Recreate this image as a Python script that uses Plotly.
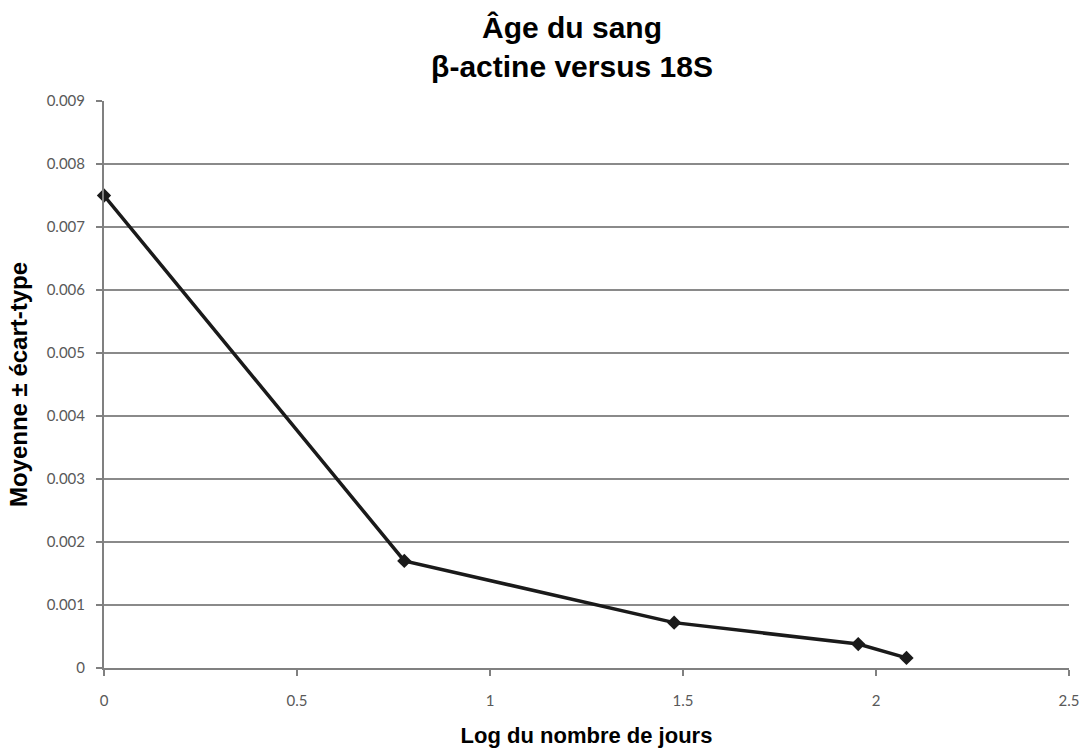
import plotly.graph_objects as go

log_days = [0.0, 0.778, 1.477, 1.954, 2.079]
mean_ratio = [0.0075, 0.0017, 0.00072, 0.00038, 0.00016]

x_ticks = [0, 0.5, 1, 1.5, 2, 2.5]
x_tick_text = ["0", "0.5", "1", "1.5", "2", "2.5"]
y_ticks = [0, 0.001, 0.002, 0.003, 0.004, 0.005, 0.006, 0.007, 0.008, 0.009]
y_tick_text = ["0", "0.001", "0.002", "0.003", "0.004", "0.005", "0.006", "0.007", "0.008", "0.009"]

fig = go.Figure()
fig.add_trace(go.Scatter(
    x=log_days, y=mean_ratio, mode="lines+markers",
    line=dict(color="#1a1a1a", width=3.5),
    marker=dict(symbol="diamond", size=11, color="#1a1a1a"),
    cliponaxis=False, showlegend=False,
))

tick_font = dict(family="Lato, Open Sans, sans-serif", size=15, color="#595959")

fig.update_layout(
    width=1091, height=756,
    margin=dict(l=104, r=20, t=101, b=80),
    paper_bgcolor="white", plot_bgcolor="white",
    title=dict(
        text="<b>Âge du sang<br>β-actine versus 18S</b>",
        font=dict(family="Liberation Sans, Arial, sans-serif", size=30, color="black"),
        x=572 / 1091, xanchor="center", xref="container",
        y=1 - 38 / 756, yanchor="middle", yref="container",
    ),
)
fig.update_xaxes(
    range=[0, 2.5], tickvals=x_ticks, ticktext=x_tick_text,
    showgrid=False, zeroline=False,
    showline=True, linecolor="#808080", linewidth=2,
    ticks="outside", ticklen=6, tickcolor="#808080", tickwidth=2,
    tickfont=tick_font, ticklabelstandoff=12,
    title=dict(text="<b>Log du nombre de jours</b>",
               font=dict(family="Liberation Sans, Arial, sans-serif", size=22, color="black"),
               standoff=20),
)
fig.update_yaxes(
    range=[0, 0.009], tickvals=y_ticks, ticktext=y_tick_text,
    showgrid=True, gridcolor="#8a8a8a", gridwidth=1.6,
    zeroline=False,
    showline=True, linecolor="#808080", linewidth=2,
    ticks="outside", ticklen=6, tickcolor="#808080", tickwidth=2,
    tickfont=tick_font, ticklabelstandoff=8,
    title=dict(text="<b>Moyenne ± écart-type</b>",
               font=dict(family="Liberation Sans, Arial, sans-serif", size=24, color="black"),
               standoff=12),
)

fig.write_html("out.html")
